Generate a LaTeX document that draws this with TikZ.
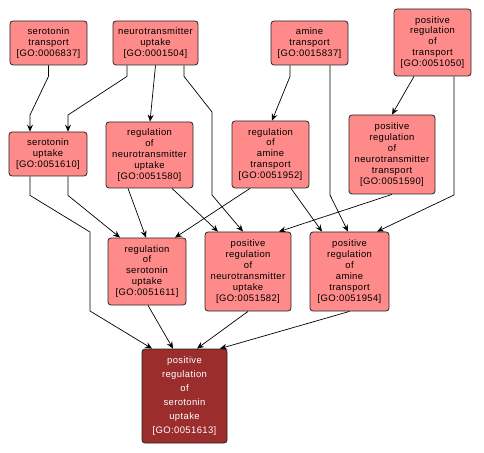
\documentclass[tikz,border=0pt]{standalone}
\usepackage{fontspec}
\newfontfamily\gofont[LetterSpace=4]{Liberation Sans}
\usetikzlibrary{arrows.meta}
\definecolor{termfill}{RGB}{255,138,138}
\definecolor{rootfill}{RGB}{155,45,45}
\begin{document}
\begin{tikzpicture}[x=1bp, y=-1bp,
    goterm/.style={draw=black!85, line width=0.8bp, fill=termfill, rounded corners=3bp,
        align=center, inner sep=0pt, font=\gofont\fontsize{9.5}{11}\selectfont},
    goroot/.style={goterm, fill=rootfill, text=white, font=\gofont\fontsize{9.5}{14}\selectfont},
    isa/.style={draw=black, line width=0.7bp, -{Stealth[length=7bp, width=6bp, inset=2.5bp]}}]
    \useasboundingbox (0,0) rectangle (484,453);
    % ==========================================
    % Top row
    % ==========================================
    \node[goterm, minimum width=77bp, minimum height=44bp] (st) at (48.5,43) {serotonin\\transport\\{}[GO:0006837]};
    \node[goterm, minimum width=85bp, minimum height=44bp] (ntu) at (155.5,43) {neurotransmitter\\uptake\\{}[GO:0001504]};
    \node[goterm, minimum width=77bp, minimum height=44bp] (at) at (309.5,43) {amine\\transport\\{}[GO:0015837]};
    \node[goterm, minimum width=77bp, minimum height=67bp] (prt) at (432.5,42.5) {positive\\regulation\\of\\transport\\{}[GO:0051050]};
    % ==========================================
    % Second row
    % ==========================================
    \node[goterm, minimum width=78bp, minimum height=44bp] (su) at (48,154) {serotonin\\uptake\\{}[GO:0051610]};
    \node[goterm, minimum width=87bp, minimum height=66bp] (rntu) at (149.5,155) {regulation\\of\\neurotransmitter\\uptake\\{}[GO:0051580]};
    \node[goterm, minimum width=77bp, minimum height=67bp] (rat) at (270.5,154.5) {regulation\\of\\amine\\transport\\{}[GO:0051952]};
    \node[goterm, minimum width=86bp, minimum height=79bp] (prntt) at (392,154.5) {positive\\regulation\\of\\neurotransmitter\\transport\\{}[GO:0051590]};
    % ==========================================
    % Third row
    % ==========================================
    \node[goterm, minimum width=78bp, minimum height=67bp] (rsu) at (147,271.5) {regulation\\of\\serotonin\\uptake\\{}[GO:0051611]};
    \node[goterm, minimum width=86bp, minimum height=79bp] (prntu) at (248,271.5) {positive\\regulation\\of\\neurotransmitter\\uptake\\{}[GO:0051582]};
    \node[goterm, minimum width=79bp, minimum height=79bp] (prat) at (349.5,271.5) {positive\\regulation\\of\\amine\\transport\\{}[GO:0051954]};
    % Root term
    \node[goroot, minimum width=85bp, minimum height=94bp] (prsu) at (184.5,396) {positive\\regulation\\of\\serotonin\\uptake\\{}[GO:0051613]};
    % ==========================================
    % Edges
    % ==========================================
    \draw[isa] (st.south) -- ++(0,11) -- (30,115) -- (su.north -| 30,0);
    \draw[isa] (ntu.south -| 127,0) -- ++(0,11) -- (68,115) -- (su.north -| 68,0);
    \draw[isa] (ntu.south) -- (rntu.north -| 150,0);
    \draw[isa] (ntu.south -| 184,0) -- ++(0,11) -- (212,112) -- (212,195) -- (prntu.north -| 243,0);
    \draw[isa] (at.south -| 290,0) -- ++(0,11) -- (rat.north -| 272,0);
    \draw[isa] (at.south -| 330,0) -- (330,195) -- (prat.north -| 348,0);
    \draw[isa] (prt.south -| 414,0) -- (prntt.north -| 392,0);
    \draw[isa] (prt.south -| 454,0) -- (454,195) -- (prat.north -| 377,0);
    \draw[isa] (prntt.south) -- (prntu.north -| 279,0);
    \draw[isa] (rat.south -| 291,0) -- (prat.north -| 322,0);
    \draw[isa] (rat.south -| 250,0) -- (rsu.north -| 175,0);
    \draw[isa] (rntu.south -| 128,0) -- (rsu.north -| 146,0);
    \draw[isa] (rntu.south -| 172,0) -- (prntu.north -| 218,0);
    \draw[isa] (su.south -| 68,0) -- ++(0,19) -- (rsu.north -| 120,0);
    \draw[isa] (su.south -| 30,0) -- ++(0,19) -- (90,232) -- (90,311) -- (prsu.north -| 152,0);
    \draw[isa] (rsu.south -| 148,0) -- (prsu.north -| 173,0);
    \draw[isa] (prntu.south) -- (prsu.north -| 197,0);
    \draw[isa] (prat.south) -- (prsu.north -| 220,0);
\end{tikzpicture}
\end{document}
